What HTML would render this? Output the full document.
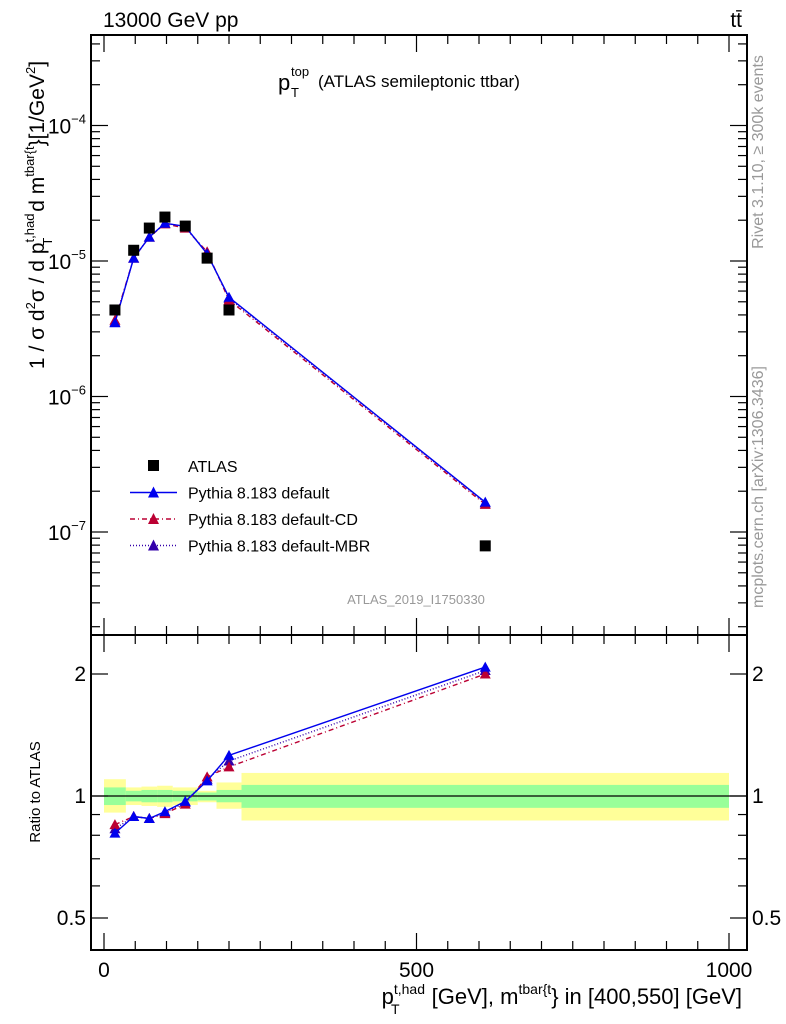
<!DOCTYPE html>
<html><head><meta charset="utf-8"><style>
body{margin:0;background:#fff}
svg{display:block;font-family:"Liberation Sans",sans-serif}
</style></head><body>
<svg id="c" width="786" height="1024" viewBox="0 0 786 1024" xmlns="http://www.w3.org/2000/svg">
<g id="bands"></g>
<g id="plots"></g>
<rect x="91" y="35" width="656" height="600" fill="none" stroke="#000" stroke-width="2"/>
<rect x="91" y="635" width="656" height="315" fill="none" stroke="#000" stroke-width="2"/>
<g id="ticks" stroke="#000" stroke-width="1.2"></g>
<g id="labels" font-size="21"></g>
<text x="103" y="27" font-size="21">13000 GeV pp</text>
<text x="742" y="27" font-size="21" text-anchor="end">tt̄</text>
<g>
<text x="278" y="90" font-size="22">p</text>
<text x="291" y="76" font-size="13">top</text>
<text x="291" y="97" font-size="13">T</text>
<text x="318" y="87" font-size="17">(ATLAS semileptonic ttbar)</text>
</g>
<text x="416" y="604" font-size="13" fill="#999" text-anchor="middle">ATLAS_2019_I1750330</text>
<text transform="translate(763,152) rotate(-90)" font-size="16" fill="#999" text-anchor="middle">Rivet 3.1.10, ≥ 300k events</text>
<text transform="translate(763,487) rotate(-90)" font-size="16" fill="#999" text-anchor="middle">mcplots.cern.ch [arXiv:1306.3436]</text>
<text transform="translate(44,215) rotate(-90)" font-size="21" text-anchor="middle">1 / σ d<tspan font-size="13" dy="-9">2</tspan><tspan dy="9">σ / d p</tspan><tspan font-size="13" dy="-10">t,had</tspan><tspan font-size="13" dx="-32" dy="18">T</tspan><tspan dx="20" dy="-8"> d m</tspan><tspan font-size="13" dy="-10">tbar{t</tspan><tspan dy="10">}[1/GeV</tspan><tspan font-size="13" dy="-9">2</tspan><tspan dy="9">]</tspan></text>
<text transform="translate(40,792) rotate(-90)" font-size="15" text-anchor="middle">Ratio to ATLAS</text>
<text x="742" y="1004" font-size="22" text-anchor="end">p<tspan font-size="14" dy="-10">t,had</tspan><tspan font-size="14" dx="-34" dy="20">T</tspan><tspan dx="26" dy="-10"> [GeV], m</tspan><tspan font-size="14" dy="-10">tbar{t</tspan><tspan dy="10">} in [400,550] [GeV]</tspan></text>
<g id="legend" font-size="16"></g>
</svg>
<script>
const binEdges=[0,35,60,85,110,150,180,220,1000];
const xCenters=[17.5,47.5,72.5,97.5,130,165,200,610];
const atlas=[4.35e-6,1.2e-5,1.75e-5,2.11e-5,1.81e-5,1.05e-5,4.35e-6,7.9e-8];
const pyDefault=[3.5e-6,1.05e-5,1.5e-5,1.9e-5,1.8e-5,1.13e-5,5.4e-6,1.66e-7];
const pyCD=[3.65e-6,1.05e-5,1.5e-5,1.88e-5,1.75e-5,1.17e-5,5.15e-6,1.6e-7];
const pyMBR=[3.55e-6,1.05e-5,1.5e-5,1.9e-5,1.79e-5,1.14e-5,5.3e-6,1.64e-7];
const ratioDefault=[0.81,0.89,0.88,0.915,0.97,1.09,1.26,2.08];
const ratioCD=[0.85,0.89,0.88,0.905,0.955,1.115,1.18,2.0];
const ratioMBR=[0.83,0.89,0.88,0.91,0.965,1.10,1.22,2.04];
const yellowHi=[1.10,1.05,1.055,1.06,1.05,1.03,1.08,1.14];
const yellowLo=[0.91,0.95,0.945,0.94,0.95,0.965,0.93,0.87];
const greenHi=[1.05,1.03,1.035,1.035,1.03,1.02,1.035,1.065];
const greenLo=[0.95,0.97,0.965,0.965,0.97,0.975,0.965,0.935];
const mainTicks=["10^-4","10^-5","10^-6","10^-7"];
const ratioTicks=[2,1,0.5];
const xTicks=[0,500,1000];

const NS="http://www.w3.org/2000/svg";
const X=v=>104+v*0.625;
const Y=v=>261-135.5*Math.log10(v/1e-5);
const R=v=>796-122*Math.log2(v);
function mk(t,a,p){const e=document.createElementNS(NS,t);for(const k in a)e.setAttribute(k,a[k]);(p||document.getElementById('plots')).appendChild(e);return e;}
const bands=document.getElementById('bands');
for(let i=0;i<xCenters.length;i++){
 const x0=X(binEdges[i]),x1=X(binEdges[i+1]);
 const y=mk('rect',{x:x0,y:R(yellowHi[i]),width:x1-x0,height:R(yellowLo[i])-R(yellowHi[i]),fill:'#ffff99'},bands);
 
 
 const g=mk('rect',{x:x0,y:R(greenHi[i]),width:x1-x0,height:R(greenLo[i])-R(greenHi[i]),fill:'#99ff99'},bands);
 
 
}
const one=mk('line',{x1:91,x2:747,y1:R(1),y2:R(1),stroke:'#000','stroke-width':1.3});


function series(vals,fy,color,dash,name){
 const pts=xCenters.map((x,i)=>X(x)+','+fy(vals[i])).join(' ');
 const l=mk('polyline',{points:pts,fill:'none',stroke:color,'stroke-width':1.4,'stroke-dasharray':dash});
 
 
 xCenters.forEach((x,i)=>{const cx=X(x),cy=fy(vals[i]);
  const t=mk('polygon',{points:`${cx-5.5},${cy+4.5} ${cx+5.5},${cy+4.5} ${cx},${cy-5.5}`,fill:color});
  
  });
}
series(pyMBR,Y,'#3300aa','1,2','mbr');
series(pyCD,Y,'#bb0033','5,3,1,3','cd');
series(pyDefault,Y,'#0000ee','','default');
atlas.forEach((v,i)=>{const s=mk('rect',{x:X(xCenters[i])-5.5,y:Y(v)-5.5,width:11,height:11,fill:'#000'});
 
 });
series(ratioMBR,R,'#3300aa','1,2','ratio-mbr');
series(ratioCD,R,'#bb0033','5,3,1,3','ratio-cd');
series(ratioDefault,R,'#0000ee','','ratio-default');

const tk=document.getElementById('ticks'),lb=document.getElementById('labels');
for(let d=-8;d<=-4;d++){for(let m=1;m<10;m++){const y=Y(m*Math.pow(10,d));if(y<36||y>634)continue;const L=m==1?16:8;
 mk('line',{x1:92,x2:92+L,y1:y,y2:y},tk);mk('line',{x1:746,x2:746-L,y1:y,y2:y},tk);}}
mainTicks.forEach(t=>{const e=+t.split('^')[1];const y=Y(Math.pow(10,e));
 const tx=mk('text',{x:86,y:y+8,'text-anchor':'end'},lb);
 
 
 tx.innerHTML='10<tspan font-size="13" dy="-10">−'+(-e)+'</tspan>';});
[0.5,0.6,0.7,0.8,0.9,1,2].forEach(r=>{const y=R(r);const L=(r==1||r==2||r==0.5)?16:8;
 mk('line',{x1:92,x2:92+L,y1:y,y2:y},tk);mk('line',{x1:746,x2:746-L,y1:y,y2:y},tk);});
ratioTicks.forEach(r=>{[[86,'end'],[752,'start']].forEach(([x,a])=>{const tx=mk('text',{x:x,y:R(r)+7,'text-anchor':a},lb);
 
 
 tx.textContent=r;});});
for(let v=0;v<=1000;v+=50){const x=X(v);const L=v%500==0?16:8;
 mk('line',{x1:x,x2:x,y1:949,y2:949-L},tk);mk('line',{x1:x,x2:x,y1:636,y2:636+L},tk);mk('line',{x1:x,x2:x,y1:36,y2:36+L},tk);mk('line',{x1:x,x2:x,y1:634,y2:634-L},tk);}
xTicks.forEach(v=>{const tx=mk('text',{x:X(v),y:977,'text-anchor':'middle'},lb);
 
 
 tx.textContent=v;});

const lg=document.getElementById('legend');
const items=[['ATLAS','#000','','sq'],['Pythia 8.183 default','#0000ee','',''],['Pythia 8.183 default-CD','#bb0033','5,3,1,3',''],['Pythia 8.183 default-MBR','#3300aa','1,2','']];
items.forEach((it,i)=>{const y=466+26.5*i;
 if(it[3]){const s=mk('rect',{x:148,y:y-6,width:11,height:11,fill:'#000'},lg);}
 else{mk('line',{x1:130,x2:177,y1:y,y2:y,stroke:it[1],'stroke-width':1.4,'stroke-dasharray':it[2]},lg);
  const t=mk('polygon',{points:`${148},${y+5} ${159},${y+5} ${153.5},${y-6}`,fill:it[1]},lg);}
 const tx=mk('text',{x:188,y:y+6},lg);
 
 
 tx.textContent=it[0];});
</script>
</body></html>
